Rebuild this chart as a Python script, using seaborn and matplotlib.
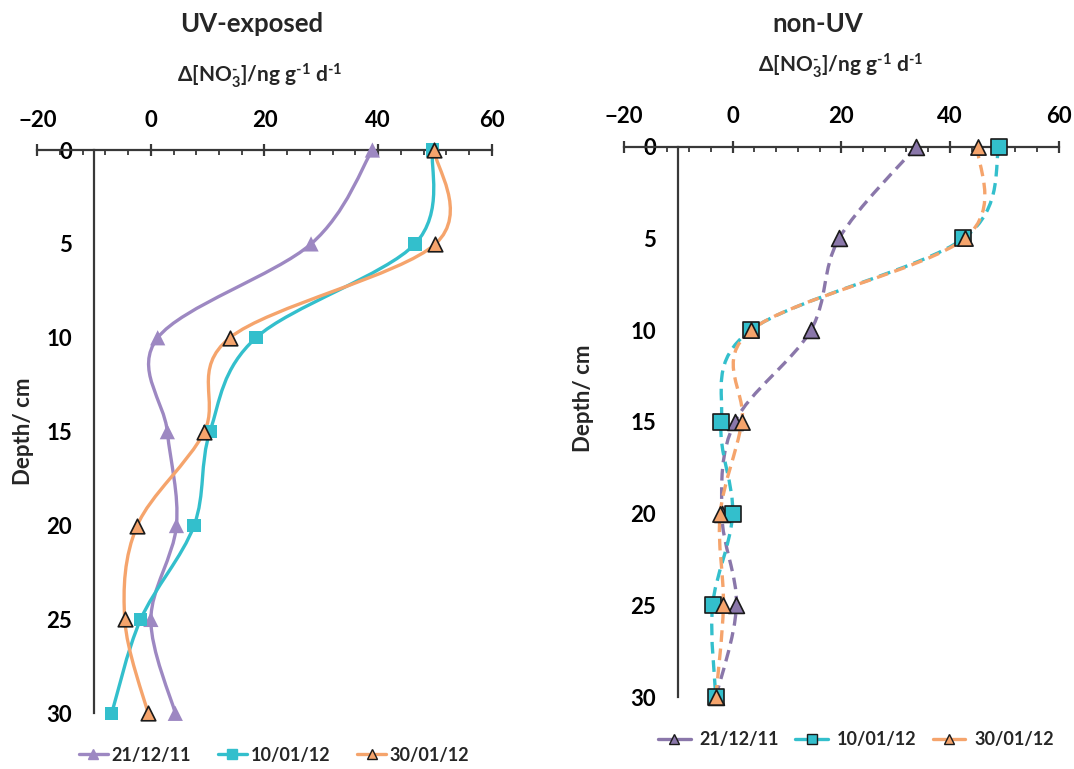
import numpy as np
import matplotlib
matplotlib.use('Agg')
import matplotlib.pyplot as plt
import pandas as pd
import seaborn as sns
from matplotlib.path import Path
from matplotlib.patches import PathPatch
from matplotlib.lines import Line2D

# depths (cm)
depth = [0, 5, 10, 15, 20, 25, 30]

# UV-exposed, delta NO3- (ng g-1 d-1)
uv_211211 = [39.0, 28.2, 1.2, 2.9, 4.5, 0.0, 4.3]
uv_100112 = [49.6, 46.5, 18.5, 10.4, 7.6, -1.8, -6.9]
uv_300112 = [49.9, 50.1, 13.9, 9.4, -2.4, -4.6, -0.5]

# non-UV
nuv_211211 = [33.8, 19.6, 14.4, 0.4, -2.0, 0.7, -3.1]
nuv_100112 = [49.1, 42.5, 3.3, -2.1, 0.0, -3.7, -3.1]
nuv_300112 = [45.1, 42.7, 3.4, 1.7, -2.3, -1.7, -3.1]

series_names = ['21/12/11', '10/01/12', '30/01/12']
x_ticks = [-20, 0, 20, 40, 60]
y_ticks = [0, 5, 10, 15, 20, 25, 30]

PURPLE = '#9d88c2'
PURPLE_D = '#8a77aa'
CYAN = '#33bfcc'
ORANGE = '#f5a46c'
AXIS_C = '#383838'

sns.set_style('white')
plt.rcParams['font.family'] = ['Lato', 'DejaVu Sans']
plt.rcParams['font.weight'] = 'bold'
plt.rcParams['mathtext.fontset'] = 'custom'
plt.rcParams['mathtext.rm'] = 'Lato:bold'
plt.rcParams['mathtext.default'] = 'rm'

XLABEL = r'Δ[NO$_3^{\text{-}}$]/ng g$^{\text{-}1}$ d$^{\text{-}1}$'


def smooth_path(xs, ys):
    # excel-like smoothed line: catmull-rom turned into cubic bezier segments
    pts = np.column_stack([xs, ys]).astype(float)
    n = len(pts)
    verts = [pts[0]]
    codes = [Path.MOVETO]
    for i in range(n - 1):
        p0 = pts[i - 1] if i > 0 else pts[i]
        p1 = pts[i]
        p2 = pts[i + 1]
        p3 = pts[i + 2] if i + 2 < n else pts[i + 1]
        verts += [p1 + (p2 - p0) / 6, p2 - (p3 - p1) / 6, p2]
        codes += [Path.CURVE4] * 3
    return Path(verts, codes)


def setup_axis(ax):
    ax.set_xlim(-20, 60)
    ax.set_ylim(30, 0)
    ax.xaxis.tick_top()
    ax.set_xticks(x_ticks)
    ax.set_xticks(np.arange(-20, 61, 4), minor=True)
    ax.set_yticks(y_ticks)
    ax.set_yticks(np.arange(0, 31, 1), minor=True)
    ax.spines['bottom'].set_visible(False)
    ax.spines['right'].set_visible(False)
    ax.spines['left'].set_position(('data', -10))
    for s in ['top', 'left']:
        ax.spines[s].set_linewidth(1.6)
        ax.spines[s].set_color(AXIS_C)
    ax.tick_params(axis='x', which='major', direction='inout', length=8, width=1.6,
                   colors=AXIS_C, labelcolor='black', labelsize=16, pad=10)
    ax.tick_params(axis='x', which='minor', direction='in', length=3.5, width=1.3, colors=AXIS_C)
    ax.tick_params(axis='y', which='major', direction='out', length=5, width=1.3,
                   colors=AXIS_C, labelcolor='black', labelsize=16, pad=11)
    ax.tick_params(axis='y', which='minor', direction='out', length=3.5, width=1.1, colors=AXIS_C)
    ax.set_xlabel('')
    ax.set_ylabel('')
    for lab in ax.get_xticklabels() + ax.get_yticklabels():
        lab.set_fontweight('bold')


def draw_panel(ax, values, colors, markers, edges, sizes, ls):
    for vals, c, m, e, s in zip(values, colors, markers, edges, sizes):
        patch = PathPatch(smooth_path(vals, depth), fill=False, edgecolor=c, lw=2.4,
                          linestyle=ls, clip_on=False, zorder=2, capstyle='butt')
        ax.add_patch(patch)
        df = pd.DataFrame({'value': vals, 'depth': depth})
        sns.scatterplot(data=df, x='value', y='depth', marker=m, color=c, s=s,
                        edgecolor=e, linewidth=1.2 if e != 'none' else 0,
                        ax=ax, clip_on=False, zorder=3, legend=False)


fig = plt.figure(figsize=(10.74, 7.69), dpi=100)
ax1 = fig.add_axes([0.0347, 0.0724, 0.4231, 0.7325])
ax2 = fig.add_axes([0.581, 0.0933, 0.4046, 0.7159])

left_colors = [PURPLE, CYAN, ORANGE]
left_markers = ['^', 's', '^']
left_edges = ['none', 'none', '#1a1a1a']
draw_panel(ax1, [uv_211211, uv_100112, uv_300112], left_colors, left_markers,
           left_edges, [120, 90, 110], '-')

right_colors = [PURPLE_D, CYAN, ORANGE]
right_markers = ['^', 's', '^']
right_edges = ['#1a1a1a', '#1a1a1a', '#1a1a1a']
draw_panel(ax2, [nuv_211211, nuv_100112, nuv_300112], right_colors, right_markers,
           right_edges, [130, 130, 120], (0, (3.5, 2)))

setup_axis(ax1)
setup_axis(ax2)

# titles / labels
fig.text(252 / 1074, 1 - 24 / 769, 'UV-exposed', ha='center', va='center', fontsize=18.5, fontweight='bold')
fig.text(818 / 1074, 1 - 24 / 769, 'non-UV', ha='center', va='center', fontsize=18.5, fontweight='bold')
fig.text(260 / 1074, 1 - 76 / 769, XLABEL, ha='center', va='center', fontsize=15, fontweight='bold')
fig.text(841 / 1074, 1 - 66 / 769, XLABEL, ha='center', va='center', fontsize=15, fontweight='bold')
fig.text(23 / 1074, 1 - 431 / 769, 'Depth/ cm', ha='center', va='center', rotation=90,
         fontsize=16, fontweight='bold')
fig.text(584 / 1074, 1 - 398 / 769, 'Depth/ cm', ha='center', va='center', rotation=90,
         fontsize=16, fontweight='bold')

# legends
left_handles = [Line2D([0], [0], color=c, lw=2.4, marker=m, markersize=9,
                       markerfacecolor=c, markeredgecolor=e if e != 'none' else c, markeredgewidth=1)
                for c, m, e in zip(left_colors, left_markers, left_edges)]
fig.legend(left_handles, series_names, loc='center', bbox_to_anchor=(274 / 1074, 1 - 755 / 769),
           ncol=3, frameon=False, fontsize=13, handlelength=1.6, columnspacing=1.5,
           handletextpad=0.2, markerscale=0.8)

right_handles = [Line2D([0], [0], color=c, lw=2.4, marker=m, markersize=9,
                        markerfacecolor=c, markeredgecolor=e, markeredgewidth=1)
                 for c, m, e in zip(right_colors, right_markers, right_edges)]
fig.legend(right_handles, series_names, loc='center', bbox_to_anchor=(856 / 1074, 1 - 740 / 769),
           ncol=3, frameon=False, fontsize=13, handlelength=1.8, columnspacing=0.9,
           handletextpad=0.5, markerscale=0.8)

fig.savefig('out.png', dpi=100)
